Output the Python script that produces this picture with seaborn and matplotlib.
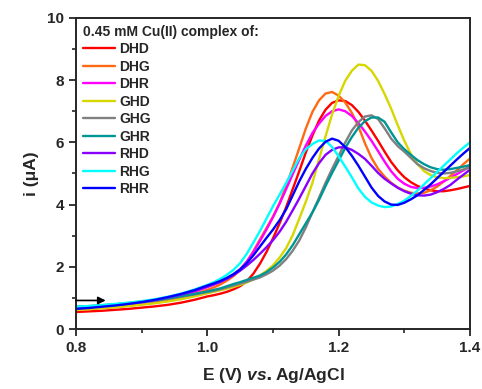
import pandas as pd
import matplotlib.pyplot as plt
import seaborn as sns
from matplotlib.ticker import MultipleLocator

# potenziale (V vs Ag/AgCl): passo 0.02 fino a 1.0, poi 0.01
potential = [0.80, 0.82, 0.84, 0.86, 0.88, 0.90, 0.92, 0.94, 0.96, 0.98,
             1.00, 1.01, 1.02, 1.03, 1.04, 1.05, 1.06, 1.07, 1.08, 1.09,
             1.10, 1.11, 1.12, 1.13, 1.14, 1.15, 1.16, 1.17, 1.18, 1.19,
             1.20, 1.21, 1.22, 1.23, 1.24, 1.25, 1.26, 1.27, 1.28, 1.29,
             1.30, 1.31, 1.32, 1.33, 1.34, 1.35, 1.36, 1.37, 1.38, 1.39, 1.40]

# correnti (uA)
DHD = [0.55, 0.57, 0.59, 0.62, 0.65, 0.69, 0.73, 0.78, 0.85, 0.94,
       1.05, 1.09, 1.14, 1.20, 1.28, 1.38, 1.54, 1.78, 2.10, 2.48,
       2.92, 3.40, 3.92, 4.50, 5.08, 5.68, 6.22, 6.70, 7.05, 7.27,
       7.35, 7.33, 7.20, 6.98, 6.70, 6.38, 6.05, 5.70, 5.37, 5.10,
       4.88, 4.72, 4.60, 4.52, 4.46, 4.43, 4.43, 4.46, 4.50, 4.55, 4.60]
DHG = [0.63, 0.65, 0.68, 0.71, 0.75, 0.80, 0.86, 0.93, 1.02, 1.13,
       1.26, 1.34, 1.44, 1.56, 1.71, 1.90, 2.16, 2.50, 2.88, 3.25,
       3.62, 4.06, 4.60, 5.20, 5.82, 6.45, 6.98, 7.35, 7.57, 7.62,
       7.50, 7.28, 6.95, 6.52, 5.97, 5.50, 5.15, 4.90, 4.70, 4.55,
       4.45, 4.38, 4.36, 4.38, 4.46, 4.58, 4.74, 4.92, 5.10, 5.30, 5.48]
DHR = [0.68, 0.70, 0.73, 0.77, 0.81, 0.86, 0.92, 0.99, 1.08, 1.20,
       1.35, 1.43, 1.52, 1.63, 1.76, 1.93, 2.17, 2.48, 2.83, 3.20,
       3.60, 4.03, 4.50, 4.98, 5.45, 5.90, 6.30, 6.60, 6.85, 7.00,
       7.06, 7.00, 6.85, 6.62, 6.35, 6.05, 5.72, 5.38, 5.07, 4.83,
       4.67, 4.57, 4.53, 4.54, 4.58, 4.65, 4.75, 4.86, 4.98, 5.10, 5.22]
GHD = [0.62, 0.64, 0.67, 0.70, 0.74, 0.78, 0.83, 0.89, 0.96, 1.05,
       1.15, 1.20, 1.25, 1.30, 1.36, 1.42, 1.50, 1.60, 1.72, 1.87,
       2.05, 2.30, 2.60, 3.02, 3.55, 4.10, 4.70, 5.45, 6.20, 6.90,
       7.50, 7.98, 8.30, 8.50, 8.48, 8.30, 7.98, 7.55, 7.08, 6.55,
       6.05, 5.62, 5.30, 5.08, 4.95, 4.88, 4.85, 4.86, 4.88, 4.91, 4.95]
GHG = [0.70, 0.72, 0.75, 0.78, 0.82, 0.86, 0.91, 0.97, 1.04, 1.11,
       1.19, 1.23, 1.28, 1.34, 1.40, 1.46, 1.52, 1.59, 1.66, 1.76,
       1.88, 2.04, 2.25, 2.52, 2.85, 3.27, 3.75, 4.22, 4.70, 5.15,
       5.57, 6.00, 6.38, 6.65, 6.83, 6.87, 6.75, 6.45, 6.12, 5.88,
       5.70, 5.50, 5.30, 5.17, 5.08, 5.02, 5.00, 5.02, 5.07, 5.13, 5.20]
GHR = [0.72, 0.74, 0.77, 0.80, 0.84, 0.88, 0.93, 0.99, 1.06, 1.13,
       1.21, 1.26, 1.31, 1.38, 1.45, 1.51, 1.58, 1.65, 1.72, 1.83,
       1.98, 2.16, 2.40, 2.70, 3.05, 3.40, 3.75, 4.15, 4.60, 5.02,
       5.42, 5.82, 6.17, 6.47, 6.68, 6.80, 6.80, 6.66, 6.32, 6.00,
       5.78, 5.60, 5.43, 5.30, 5.20, 5.14, 5.12, 5.14, 5.18, 5.22, 5.27]
RHD = [0.70, 0.72, 0.75, 0.79, 0.83, 0.88, 0.94, 1.02, 1.11, 1.23,
       1.37, 1.44, 1.52, 1.62, 1.74, 1.88, 2.04, 2.22, 2.42, 2.63,
       2.86, 3.13, 3.45, 3.82, 4.20, 4.60, 5.00, 5.33, 5.60, 5.76,
       5.84, 5.84, 5.76, 5.63, 5.47, 5.25, 5.02, 4.83, 4.68, 4.54,
       4.43, 4.35, 4.30, 4.29, 4.32, 4.40, 4.50, 4.63, 4.80, 4.96, 5.12]
RHG = [0.72, 0.74, 0.77, 0.81, 0.85, 0.90, 0.96, 1.04, 1.14, 1.27,
       1.42, 1.51, 1.62, 1.75, 1.91, 2.12, 2.42, 2.78, 3.15, 3.55,
       3.95, 4.32, 4.70, 5.10, 5.50, 5.78, 5.95, 6.06, 6.05, 5.85,
       5.55, 5.22, 4.88, 4.52, 4.25, 4.07, 3.97, 3.92, 3.94, 4.02,
       4.13, 4.28, 4.45, 4.65, 4.85, 5.05, 5.25, 5.45, 5.65, 5.83, 6.00]
RHR = [0.65, 0.68, 0.72, 0.76, 0.81, 0.87, 0.94, 1.03, 1.13, 1.25,
       1.40, 1.47, 1.55, 1.65, 1.77, 1.92, 2.12, 2.37, 2.65, 2.93,
       3.20, 3.50, 3.85, 4.30, 4.75, 5.15, 5.50, 5.80, 6.02, 6.12,
       6.05, 5.85, 5.57, 5.25, 4.90, 4.55, 4.28, 4.10, 4.00, 3.99,
       4.06, 4.17, 4.30, 4.47, 4.65, 4.85, 5.05, 5.25, 5.45, 5.64, 5.82]

complexes = ["DHD", "DHG", "DHR", "GHD", "GHG", "GHR", "RHD", "RHG", "RHR"]
currents = [DHD, DHG, DHR, GHD, GHG, GHR, RHD, RHG, RHR]
colors = ["#ff0000", "#ff6a13", "#ff00ff", "#d6d600", "#808080",
          "#009595", "#8a00ff", "#00ffff", "#0000ff"]

# freccia della direzione di scansione
scan_start = 0.80
scan_end = 0.845
scan_level = 0.92

# formato lungo per seaborn
frames = []
for name, values in zip(complexes, currents):
    frames.append(pd.DataFrame({"E": potential, "i": values, "complex": name}))
data = pd.concat(frames)

sns.set_style("ticks")
plt.rcParams["font.family"] = ["Liberation Sans", "DejaVu Sans"]
plt.rcParams["font.weight"] = "bold"
plt.rcParams["mathtext.fontset"] = "custom"
plt.rcParams["mathtext.it"] = "Liberation Sans:italic:bold"

fig = plt.figure(figsize=(4.82, 3.89), dpi=100)
ax = fig.add_axes([0.158, 0.154, 0.817, 0.800])

sns.lineplot(data=data, x="E", y="i", hue="complex", hue_order=complexes,
             palette=dict(zip(complexes, colors)), linewidth=1.7,
             sort=False, estimator=None, ax=ax)

ax.annotate("", xy=(scan_end, scan_level), xytext=(scan_start, scan_level),
            arrowprops=dict(arrowstyle="-|>", color="black", lw=1.2,
                            mutation_scale=11, shrinkA=0, shrinkB=0))

ax.set_xlim(0.8, 1.4)
ax.set_ylim(0, 10)
ax.xaxis.set_major_locator(MultipleLocator(0.2))
ax.xaxis.set_minor_locator(MultipleLocator(0.1))
ax.yaxis.set_major_locator(MultipleLocator(2))
ax.yaxis.set_minor_locator(MultipleLocator(1))
ax.tick_params(which="major", length=5, width=1.3, labelsize=11)
ax.tick_params(which="minor", length=3, width=1.2)
for lab in ax.get_xticklabels() + ax.get_yticklabels():
    lab.set_fontweight("bold")
for sp in ax.spines.values():
    sp.set_linewidth(1.4)
    sp.set_visible(True)

ax.set_xlabel(r"E (V) $\mathit{vs.}$Ag/AgCl", fontsize=12.5, fontweight="bold", labelpad=8)
ax.set_ylabel("i (μA)", fontsize=12.5, fontweight="bold", labelpad=6)

leg = ax.legend(title="0.45 mM Cu(II) complex of:", loc="upper left",
                frameon=False, prop={"weight": "bold", "size": 10},
                title_fontproperties={"weight": "bold", "size": 10},
                handlelength=2.3, handletextpad=0.3, labelspacing=0.25,
                borderaxespad=0.3, borderpad=0.2, alignment="left")

fig.savefig("out.png", dpi=100)
